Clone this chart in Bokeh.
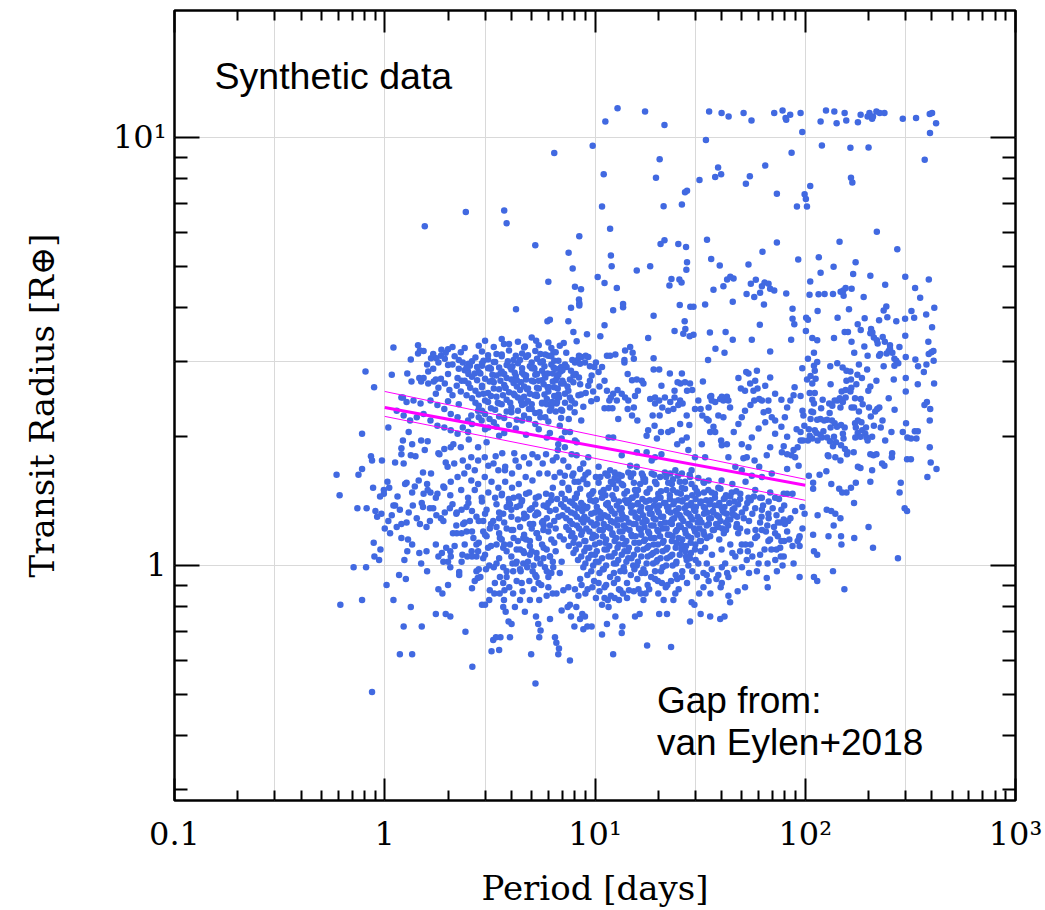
from bokeh.plotting import figure
from bokeh.models import Range1d, LogAxis, FixedTicker, Label, ColumnDataSource
from bokeh.embed import file_html
from bokeh.resources import INLINE

# ---------------- data (period [days], radius [R_earth]) ----------------
upper_sparse = [
(6.4,9.2),(2.43,6.7),(1.55,6.2),(3.7,6.75),(3.8,6.3),(5.2,5.6),(6.0,4.6),
(12.8,11.7),(11.2,10.9),(17.3,11.5),(21.4,10.7),(34.9,11.5),(40.0,11.4),(43.2,11.2),(50.9,11.4),(55.5,10.96),(71.2,11.4),
(33.7,9.86),(9.75,9.56),(20.3,8.9),(11.0,8.2),(19.5,8.05),(38.5,8.51),(39.8,8.2),(37.3,8.08),(31.4,7.95),(54.5,8.12),(52.2,7.8),
(64.5,8.6),(73.3,7.39),(26.8,7.45),(27.4,7.51),(25.9,6.97),(21.2,6.91),(10.8,6.9),(11.8,6.12),(8.42,5.88),(7.49,5.38),(7.83,4.94),
(11.9,5.30),(12.0,5.0),(15.8,4.89),(18.3,5.0),(20.5,5.64),(21.4,5.75),(24.9,5.64),(27.1,5.55),(27.4,5.11),(27.2,4.91),(34.1,5.77),
(35.7,5.2),(39.2,5.02),(53.7,5.05),(62.6,5.41),(73.3,5.68),(10.3,4.72),(11.1,4.57),(12.7,4.45),(8.03,4.48),(8.58,4.42),(23.1,4.67),
(22.6,4.51),(25.2,4.66),(25.8,4.58),(36.6,4.41),(40.8,4.49),(42.5,4.66),(44.0,4.73),(45.6,4.68),(55.1,4.55),(58.2,4.65),(62.2,4.49),
(64.0,4.58),(66.9,4.55),(68.1,4.43),(71.2,4.39),(52.6,4.31),(57.2,4.24),(61.0,4.34),(8.39,4.18),
]

giants_outer = [
(78.0,11.56),(80.6,11.1),(81.2,11.0),(84.8,11.3),(95.0,11.4),(96.8,10.3),(125.5,11.56),(137.5,11.5),(153.9,11.4),(118.3,10.9),
(141,10.8),(156.7,10.96),(178,10.86),(183.4,11.3),(198,11.2),(202,11.4),(208,11.06),(210,11.2),(218,11.5),(226,11.4),(238,11.4),
(291,11.06),(336.5,11.1),(391,11.35),(401,11.4),(419,10.8),(392,10.25),(120,9.58),(164,9.46),(200,9.48),(86.1,9.21),(370,8.87),
(165,8.05),(167.5,7.85),(105.6,7.7),(99.3,7.37),(100.7,7.18),(91.3,6.9),(101.9,6.9),(219,6.02),(145.6,5.71),(274,5.48),(92.6,5.19),
(116,5.25),(173.6,5.11),(136.4,4.99),(118.3,4.83),(169,4.80),(204,4.75),(299,4.73),(387,4.66),(105.6,4.61),(240,4.53),(333,4.45),
(81.2,4.32),(104.8,4.29),(115.7,4.30),(123.6,4.31),(135.5,4.31),(147.3,4.36),(151.7,4.39),(155.6,4.45),(166.2,4.43),(152.2,4.27),
(189.6,4.24),(352,4.22),
]

outer_mid = [
(87,3.98),(87,3.77),(88.7,3.66),(85.7,3.37),(101,3.79),(103,3.75),(100.7,3.53),(114.5,3.93),(108,3.40),(114,3.36),(110,3.14),(103,3.04),
(96.8,2.89),(102,2.72),(110,2.93),(111,2.85),(106,2.77),(112,2.73),(108,2.66),(105,2.53),(111,2.53),(108,2.44),(110,2.39),(107,2.29),
(109,2.28),(106,2.20),(114,2.19),(104,2.08),(111,2.07),(113,2.04),(105,2.01),(108,1.98),(103,1.96),(95,1.96),(92,1.89),(88,1.86),
(86,1.81),(82,1.82),(79,1.90),(77.4,1.84),(82,2.00),(77,2.11),(80,2.22),(82,2.34),(85,2.43),(77,2.44),(88,2.50),(89,2.61),(95,2.49),
(97,2.30),(98,2.24),(99,2.12),(91,2.08),(95,2.05),(97.5,1.96),(89.5,1.79),(93,1.71),(82,1.68),(128,1.81),(147,1.76),(119,2.33),
(121,2.44),(130,2.39),(134.5,2.36),(130.6,2.27),(118,2.20),(123,2.18),(127,2.19),(134,2.18),(138,2.15),(141.6,2.11),(132,2.10),
(122,2.06),(118,2.02),(114.5,1.96),(120,1.99),(127,1.99),(137,2.00),(140,1.94),(131,1.95),(135.5,1.90),(148,1.91),(152,1.98),
(154.5,1.87),(159,1.84),(151,2.03),(154,2.10),(148,2.13),(147,2.34),(151,2.41),(155.6,2.47),(149,2.55),(155.6,2.57),(164,2.55),
(165.6,2.60),(157,2.70),(150.6,2.90),(157,2.85),(164,2.84),(165,2.72),(175,2.65),(186,2.74),(132,2.65),(142.5,2.43),(138,2.43),
(146,2.46),(166,2.34),(170.6,2.34),(172.5,2.46),(183.6,2.45),(187.6,2.38),(180,2.29),(172.5,2.15),(174,2.10),(178,2.18),(185,2.16),
(186.6,2.07),(177.6,2.04),(173,1.99),(183,2.00),(193,2.03),(195.4,1.99),(198,1.96),(208,2.00),(194.5,2.10),(212,2.12),(201,2.34),
(199.5,2.56),(204,2.62),(218,2.70),(215,2.29),(225,2.34),(220,2.32),(205,2.23),(233,2.18),(228.6,2.10),(240,1.96),(257,2.05),
(266,2.31),(249.5,2.46),(263.6,2.72),(197,2.87),(177,2.79),(142,2.97),(142.5,3.79),(161.4,3.97),(191.7,3.78),(177.6,3.66),
(183.6,3.55),(166,3.33),(154,3.51),(159.6,3.51),(137,3.40),(114,2.99),(131.5,2.92),(171,3.14),(198,3.09),(191,3.25),(212,3.41),
(205.6,3.57),(204,3.49),(208.6,3.50),(224.5,3.74),(245.7,3.80),(243,4.03),(236,3.94),(271,3.72),(298.5,3.77),(320,3.93),(329.6,3.79),
(376,3.86),(411,4.00),(401,3.60),(299,3.44),(280.5,3.24),(253,3.27),(239,3.33),(233.6,3.42),(219,3.36),(221,3.30),(227.5,3.12),
(244,3.13),(249.5,3.17),(259.6,3.14),(253,3.21),(265.5,3.04),(271,3.01),(277,2.97),(265.5,2.93),(236,2.92),(224.5,3.09),(180,2.95),
(300.6,3.07),(334,3.03),(344,2.92),(366.5,2.83),(377,2.95),(385,3.33),(386.6,3.12),(398,3.15),(407,3.17),(408,3.01),(300.6,2.74),
(343,2.65),(410,2.66),(300.6,2.55),(379,2.41),(369,2.37),(393,2.32),(391,2.18),(301.6,2.15),(291,2.05),(306,1.99),(318.6,1.98),
(332,2.06),(343,2.06),(338,1.98),(391,1.89),(395,1.74),(421,1.68),(381,1.61),(305,1.77),(318,1.77),(259,1.83),(232,1.73),(238,1.71),
(208,1.67),(204,1.82),(211,1.81),(218,1.82),(258,1.79),(284.5,1.56),(281,1.48),(204,1.57),(183,1.69),(178,1.70),(174,1.56),(165,1.52),
(157,1.48),(150,1.48),(145,1.51),(133,1.55),(126,1.66),(117,1.63),(109,1.56),(104,1.62),(109,1.51),(87,1.47),(82,1.47),(79,1.47),
(170,1.84),(158,1.82),(139,1.79),(129,1.80),
]

outer_low = [
(79.4,1.38),(96.8,1.37),(99.3,1.32),(77,1.35),(89.5,1.34),(114.5,1.31),(126.5,1.35),(133,1.34),(139,1.32),(147,1.29),(136.5,1.24),
(170.6,1.40),(200,1.23),(297,1.36),(305,1.34),(85,1.29),(83,1.27),(80,1.25),(76.5,1.26),(82,1.20),(79.4,1.14),(84,1.15),(87,1.11),
(92,1.14),(94,1.17),(93.5,1.16),(94,1.11),(97,1.22),(109,1.18),(129,1.17),(148,1.17),(171,1.16),(148.6,1.12),(110,1.08),(114,1.06),
(210,1.10),(276,1.04),(79,1.05),(76.5,1.05),(88,1.01),(78,1.00),(94,0.94),(110,0.94),(114,0.92),(135.5,0.97),(153.5,0.88),
]

short_upper = [
(4.21,3.97),(5.94,3.72),(6.1,3.75),(3.69,3.29),(4.64,3.25),(5.25,3.35),(6.34,3.15),(1.10,3.23),(1.44,3.27),(1.47,3.18),(1.44,3.13),
(1.53,3.17),(1.33,3.03),(1.66,3.05),(1.76,3.05),(1.86,3.19),(2.0,3.20),(1.85,3.09),(1.93,3.04),(2.0,2.94),(1.59,2.95),(1.61,2.84),
(0.81,2.84),(1.08,2.79),(1.28,2.81),(1.34,2.69),(1.46,2.74),(1.53,2.74),(1.49,2.69),(1.71,2.69),(1.75,2.72),(1.61,2.66),(1.80,2.60),
(1.93,2.66),(2.03,2.57),(0.89,2.61),(2.22,2.74),(2.32,2.70),(2.49,2.84),(2.68,2.81),(2.9,2.97),(2.54,2.93),(1.22,2.47),(0.78,2.03),
(1.04,2.10),(1.30,2.05),(1.22,1.96),(1.35,1.92),(1.49,1.96),(1.60,1.95),(0.86,1.80),(0.87,1.76),(0.97,1.76),(1.20,1.82),(1.33,1.81),
(1.23,1.73),(0.59,1.63),(0.75,1.63),(0.78,1.68),(1.03,1.57),(0.99,1.50),(0.99,1.47),(1.27,1.56),(1.39,1.53),(1.52,1.65),(1.66,1.64),
(1.82,1.82),(1.92,1.87),(2.06,1.89),(2.12,1.92),(2.30,1.89),(2.51,1.97),(2.78,1.89),(3.05,1.94),(3.37,1.80),(3.62,1.83),(3.73,1.67),
(4.13,1.83),
(1.20,2.47),(1.27,2.41),(1.37,2.43),(1.48,2.39),(1.65,2.43),(1.78,2.37),(1.92,2.32),(2.06,2.26),(2.22,2.22),(1.14,2.30),(1.23,2.24),
(1.32,2.18),(1.42,2.22),(1.53,2.26),(1.65,2.18),(1.78,2.12),(1.92,2.10),(2.06,2.07),(2.22,2.03),(2.35,2.10),(2.49,2.18),(2.58,2.24),
(2.78,2.30),(2.89,2.18),(3.11,2.10),(2.49,2.05),
(2.58,1.79),(2.78,1.76),(2.99,1.79),(3.11,1.71),(3.29,1.73),(3.47,1.67),(3.74,1.70),(4.03,1.64),(4.19,1.76),(4.34,1.70),(4.59,1.79),
(4.86,1.73),(5.04,1.82),(5.33,1.79),(5.64,1.73),(5.85,1.82),(6.30,1.76),(6.66,1.86),(5.95,1.64),(5.43,1.64),(5.04,1.58),(4.68,1.61),
(4.34,1.55),(4.03,1.52),(3.74,1.57),(3.47,1.52),(3.22,1.57),(2.99,1.61),(2.78,1.55),(2.58,1.58),(2.39,1.64),(2.22,1.61),(2.06,1.57),
(1.92,1.52),(1.78,1.47),(1.65,1.48),(1.59,1.55),(1.53,1.47),(1.99,1.70),(2.14,1.73),(2.35,1.76),(2.49,1.70),(2.68,1.67),(2.31,1.50),
(2.49,1.44),(2.68,1.50),(2.89,1.44),(3.11,1.48),(3.35,1.44),(3.61,1.47),(3.89,1.43),(4.34,1.45),(4.86,1.48),(5.23,1.44),(5.85,1.47),
(6.30,1.52),(6.42,1.61),(6.18,1.42),
]

short_low = [
(0.741,1.36),(0.82,1.36),(0.903,1.34),(0.964,1.32),(0.886,1.13),(0.954,1.09),(0.893,1.05),(0.94,1.03),(0.711,0.99),(0.815,0.99),
(0.615,0.81),(0.78,0.83),(1.02,0.90),(1.10,0.83),(1.17,0.95),(1.26,0.93),(1.33,0.80),(1.23,0.72),(1.50,0.72),(1.18,0.62),(1.35,0.62),
(0.87,0.506),(1.75,0.77),(1.95,0.77),(2.05,0.76),(1.80,0.88),(1.88,0.86),(2.00,0.90),(1.59,0.97),(1.49,1.01),(1.24,1.03),(1.46,1.07),
(1.58,1.08),(1.35,1.12),(1.28,1.08),(1.75,1.12),(1.87,1.07),(1.96,1.10),(2.05,1.08),(2.15,1.11),(2.06,1.05),(2.00,1.02),(1.90,1.02),
(1.80,1.05),(2.34,1.06),(2.26,0.965),(2.26,0.95),(2.05,0.99),(2.42,0.70),(2.61,0.58),(2.60,0.885),(2.68,0.92),(2.77,0.935),(2.73,0.97),
(2.85,0.94),(2.90,0.81),(3.00,0.81),(3.03,0.98),(2.73,1.05),(2.78,1.08),(3.10,1.10),(3.05,1.17),(3.16,0.875),(3.32,0.86),(3.52,0.86),
(3.69,0.83),(3.71,0.875),(3.14,0.83),(3.28,0.67),(3.22,0.63),(3.50,0.635),(3.55,0.68),(3.38,0.68),(3.94,0.68),(3.76,0.78),(3.88,0.74),
(4.01,0.73),(3.91,0.89),(3.80,0.94),(4.08,0.97),(4.05,1.01),(4.24,1.02),(4.56,1.01),(4.43,0.97),(4.76,0.99),(5.05,0.97),(4.87,0.92),
(4.52,0.87),(4.64,0.78),(4.90,0.83),(5.12,0.88),(5.39,0.91),(5.27,0.94),(5.55,0.90),(5.43,0.83),(5.89,0.85),(6.0,0.89),(5.24,0.76),
(5.37,0.73),(5.51,0.705),(5.43,0.68),(4.97,0.62),(5.21,0.53),(6.11,0.75),(6.29,0.86),(6.20,0.96),(6.33,0.99),(5.78,0.99),(5.68,1.04),
(6.11,1.05),(5.89,1.09),(5.27,1.07),(4.90,1.06),(4.56,1.08),(4.24,1.09),(3.94,1.12),(3.66,1.10),(3.40,1.12),(3.53,1.16),(4.08,1.21),
(4.56,1.16),(4.90,1.14),(5.27,1.19),(5.68,1.21),(6.11,1.24),(5.68,1.27),(5.37,1.32),(4.90,1.35),(5.89,1.37),(3.40,1.23),(3.16,1.22),
(2.94,1.20),(2.64,1.16),(2.45,1.20),(2.36,1.25),(2.54,1.27),(2.73,1.30),(3.05,1.35),(3.28,1.27),(3.66,1.32),(3.94,1.39),(4.24,1.37),
(4.48,1.41),(4.73,1.30),(5.08,1.25),(2.94,1.27),(1.06,1.19),(1.14,1.23),(1.20,1.25),(1.27,1.26),(1.42,1.29),(1.47,1.25),(1.58,1.23),
(1.64,1.27),(1.76,1.31),(1.90,1.27),(1.93,1.33),(2.04,1.36),(2.19,1.32),(2.32,1.35),(2.45,1.37),(1.64,1.36),(1.52,1.37),(1.36,1.38),
(1.18,1.35),(1.12,1.38),(1.08,1.31),(1.20,1.16),(1.29,1.15),(1.04,1.27),(2.19,1.24),(2.11,1.19),(2.32,1.19),(2.73,1.12),(2.59,1.08),
(2.47,1.05),(2.32,1.02),(2.94,1.04),(3.14,1.00),(3.40,1.01),(3.66,0.99),(3.53,0.94),(3.34,0.91),(3.66,0.91),(4.24,0.92),(4.48,0.91),
(4.08,0.86),(4.40,0.83),(4.16,0.80),(3.66,0.80),
]

mid_upper = [
(7.69,4.00),(8.42,4.10),(8.42,4.05),(12.2,3.95),(13.6,4.01),(13.6,4.08),(19.0,3.83),(25.3,4.06),(28.4,4.02),(29.4,4.02),(33.4,4.07),
(45.2,4.13),(63.6,4.07),(7.47,3.72),(11.1,3.64),(7.89,3.51),(8.18,3.34),(9.16,3.47),(10.6,3.43),(7.10,3.31),(17.9,3.40),(23.9,3.53),
(26.7,3.72),(26.9,3.57),(26.3,3.48),(28.2,3.43),(29.4,3.46),(35.2,3.50),(41.8,3.51),(60.8,3.65),(45.2,3.37),(37.4,3.21),(41.3,3.14),
(34.5,3.02),(55.7,3.37),(68.1,3.16),(8.39,3.09),(8.63,3.07),(9.03,3.09),(9.29,3.07),(8.03,2.98),(8.27,3.02),(8.49,2.96),(8.96,2.98),
(9.46,2.92),(6.86,2.84),(7.33,2.91),(7.69,2.85),(8.10,2.80),(8.39,2.75),(7.60,2.72),(7.89,2.68),(7.47,2.56),(6.89,2.66),(6.59,2.75),
(7.19,2.52),(6.74,2.47),(6.56,2.39),(7.60,2.47),(7.74,2.43),(6.98,2.30),(7.60,2.34),(8.03,2.39),(8.34,2.50),(8.58,2.51),(9.03,2.53),
(9.29,2.63),(9.46,2.70),(9.64,2.78),(9.93,2.91),(10.1,2.98),(10.4,2.83),(10.8,2.91),(11.1,2.70),(11.4,3.09),(11.8,3.09),(12.5,3.11),
(13.9,3.18),(14.7,3.24),(15.1,3.14),(15.3,3.04),(13.8,2.98),(13.8,3.02),(14.3,2.80),(15.0,2.71),(15.8,2.72),(16.7,2.70),(17.0,2.66),
(16.0,2.56),(15.5,2.49),(14.4,2.43),(13.9,2.47),(13.4,2.52),(12.8,2.57),(12.2,2.52),(11.9,2.47),(11.4,2.56),(11.7,2.43),(11.1,2.33),
(11.6,2.33),(12.1,2.33),(12.7,2.43),(12.9,2.20),(14.3,2.32),(15.3,2.34),(15.0,2.24),(15.9,2.18),(19.0,3.05),(19.0,2.87),(20.2,2.87),
(22.7,2.81),(25.9,2.81),(26.8,2.68),(28.3,2.66),(29.0,2.57),(27.4,2.56),(25.5,2.66),(24.7,2.68),(23.9,2.56),(20.7,2.63),(19.3,2.47),
(18.3,2.45),(19.3,2.39),(20.2,2.43),(21.5,2.47),(22.8,2.41),(23.9,2.47),(25.4,2.43),(26.1,2.39),(24.9,2.37),(23.6,2.32),(22.3,2.30),
(20.9,2.34),(20.3,2.24),(18.8,2.24),(17.9,2.07),(19.2,2.12),(19.7,1.98),(17.6,2.01),(20.6,2.05),(22.3,2.05),(23.2,2.07),(25.4,2.14),
(27.3,2.24),(28.1,2.13),(27.3,1.99),(25.9,1.96),(29.9,2.32),(31.0,2.43),(31.8,2.32),(32.4,2.24),(34.0,2.20),(34.7,2.34),(35.7,2.49),
(35.9,2.43),(37.3,2.41),(39.4,2.45),(40.8,2.43),(42.4,2.48),(43.1,2.43),(43.9,2.34),(40.8,2.22),(38.6,2.24),(36.6,2.11),(34.7,2.18),
(35.3,2.05),(37.3,2.05),(39.8,1.96),(40.1,1.91),(42.4,1.92),(45.7,2.05),(48.1,2.14),(49.9,2.22),(51.7,2.30),(54.9,2.37),(57.2,2.43),
(60.4,2.45),(63.4,2.28),(66.8,2.30),(69.3,2.22),(71.9,2.18),(64.5,2.16),(60.0,2.09),(55.7,1.99),(53.7,1.89),(49.9,1.92),(50.8,1.78),
(52.7,1.79),(57.4,1.76),(60.4,1.70),(65.6,1.81),(68.1,1.89),(71.9,2.03),(48.1,2.74),(49.4,2.59),(52.4,2.83),(53.7,2.81),(58.9,2.85),
(57.8,2.70),(54.7,2.66),(51.7,2.56),(56.7,2.56),(59.3,2.59),(64.5,2.63),(68.1,2.75),(71.9,2.52),(62.2,2.43),(66.8,2.43),(32.6,2.69),
(35.3,2.48),(40.1,2.48),
]

mid_lower = [
(6.69,1.92),(7.19,1.89),(6.56,1.79),(7.07,1.76),(7.74,1.82),(8.18,1.81),(7.47,1.70),(6.81,1.65),(7.19,1.62),(7.89,1.64),(8.49,1.68),
(8.80,1.73),(9.29,1.65),(9.12,1.55),(8.34,1.57),(7.47,1.52),(6.94,1.47),(8.03,1.44),(9.64,1.47),(10.4,1.70),(10.6,1.61),(11.2,1.64),
(11.8,1.67),(12.4,1.65),(12.2,1.55),(11.6,1.52),(11.2,1.46),(12.9,1.58),(13.6,1.54),(13.4,1.62),(14.4,1.65),(15.2,1.64),(15.8,1.70),
(16.7,1.64),(17.3,1.59),(16.4,1.55),(15.5,1.50),(15.0,1.44),(17.6,1.48),(18.6,1.64),(19.3,1.57),(20.4,1.61),(21.5,1.65),(22.8,1.64),
(24.1,1.67),(23.2,1.55),(21.9,1.50),(20.0,1.44),(24.6,1.48),(25.9,1.52),(26.8,1.57),(28.3,1.61),(25.9,1.64),(28.8,1.67),(29.9,1.52),
(31.0,1.47),(32.8,1.57),(34.7,1.58),(35.9,1.48),(38.6,1.52),(41.5,1.44),(44.7,1.48),(49.1,1.47),(53.7,1.44),(57.8,1.50),(62.2,1.44),
(68.1,1.48),(71.9,1.44),(17.6,1.84),(18.6,1.76),(11.6,1.99),(12.2,1.99),(7.60,2.05),(6.94,1.98),(8.03,1.96),(9.29,1.79),(8.18,1.94),
(14.7,1.71),(13.4,1.81),(15.8,1.84),(19.3,1.79),(20.7,1.82),(24.6,1.92),(27.8,1.86),(29.9,1.79),(32.2,1.92),(33.4,1.79),(43.1,1.79),
(46.5,1.70),(49.9,1.67),(55.7,1.62),(62.2,1.61),(69.3,1.64),
(7.5,1.50),(8.5,1.51),(9.8,1.49),(11.0,1.50),(12.6,1.51),(14.2,1.49),(16.0,1.50),(18.2,1.51),(20.6,1.49),(23.5,1.50),(26.8,1.51),
(30.5,1.49),(34.6,1.50),(39.5,1.51),
(7.0,1.56),(8.0,1.57),(9.2,1.55),(10.4,1.56),(11.9,1.57),(13.4,1.55),(15.3,1.56),(17.3,1.57),(19.6,1.55),(22.3,1.56),(25.3,1.57),
(28.8,1.55),(33.0,1.56),
(7.8,1.62),(9.0,1.63),(10.1,1.61),(11.5,1.62),(13.0,1.63),(14.8,1.61),(16.9,1.62),(19.1,1.63),(21.8,1.61),(24.8,1.62),(28.2,1.63),
]

mid_low = [
(6.94,1.02),(7.60,0.60),(6.55,0.66),(6.69,0.62),(6.74,0.64),(6.45,0.68),(6.94,0.785),(7.41,0.80),(7.60,0.81),(8.15,0.80),(8.34,0.85),
(7.69,0.76),(7.98,0.72),(8.49,0.75),(8.80,0.71),(9.19,0.72),(9.64,0.72),(8.70,0.77),(8.96,0.76),(10.8,0.69),(11.4,0.73),(12.2,0.62),
(12.5,0.76),(13.5,0.72),(13.4,0.695),(15.5,0.76),(16.3,0.77),(17.7,0.65),(23.0,0.645),(20.2,0.77),(22.0,0.77),(21.2,0.83),(23.6,0.83),
(24.1,0.86),(28.3,0.74),(28.8,0.82),(29.7,0.81),(31.3,0.86),(31.8,0.77),(35.3,0.76),(39.4,0.75),(41.3,0.76),(35.4,0.86),(39.6,0.89),
(40.1,0.91),(43.9,0.82),(43.1,0.85),(47.7,0.87),(51.7,0.89),(54.0,0.96),(58.9,0.97),(65.6,0.935),(66.3,0.89),(73.3,0.97),(73,1.09),
(66.2,1.01),(10.1,0.84),(11.1,0.84),(11.5,0.83),(11.9,0.85),(12.4,0.84),(13.0,0.83),(13.6,0.86),(14.2,0.84),(14.5,0.875),(15.3,0.87),
(16.1,0.88),(17.0,0.83),(17.4,0.86),(18.1,0.88),(10.8,0.81),(11.6,0.80),(10.4,0.91),(11.1,0.89),(12.3,0.91),(13.2,0.875),(9.71,0.89),
(9.22,0.88),(8.63,0.90),(8.03,0.88),(7.47,0.89),(7.07,0.875),(6.56,0.86),(19.3,0.93),(20.8,0.91),(21.7,0.89),(23.0,0.92),(24.2,0.95),
(25.9,0.94),(27.8,1.00),(27.3,1.03),(31.0,1.01),(34.0,1.01),(35.9,0.98),(32.8,0.96),(34.7,0.92),(32.8,0.89),(53.3,1.08),(57.8,1.16),
(62.2,1.21),(66.8,1.14),(71.9,1.19),(74.1,1.26),(66.8,1.32),(62.2,1.35),(57.8,1.36),(47.3,1.25),(49.9,1.12),(52.7,1.03),(46.5,1.05),
(41.6,1.01),(43.1,0.94),(38.6,0.95),(40.1,0.99),
]

subneptune_core = [
(2.9,3.16),(3.4,3.12),(3.9,3.18),(4.5,3.13),(5.2,3.17),(5.8,3.11),(6.5,3.15),
(2.7,3.06),(3.1,3.03),(3.6,3.08),(4.1,3.02),(4.7,3.07),(5.3,3.04),(6.0,3.09),(6.7,3.01),
(2.5,2.96),(2.9,2.93),(3.3,2.99),(3.8,2.94),(4.3,2.97),(4.9,2.92),(5.5,2.98),(6.2,2.95),(6.9,2.91),
(2.4,2.86),(2.8,2.83),(3.2,2.88),(3.6,2.84),(4.0,2.87),(4.5,2.82),(5.0,2.89),(5.6,2.85),(6.3,2.81),(7.0,2.86),
(2.6,2.76),(3.0,2.73),(3.4,2.78),(3.8,2.74),(4.2,2.77),(4.7,2.72),(5.2,2.79),(5.8,2.75),(6.5,2.71),
(2.5,2.66),(2.9,2.63),(3.3,2.68),(3.7,2.64),(4.1,2.67),(4.6,2.62),(5.1,2.69),(5.7,2.65),(6.4,2.61),(7.1,2.66),
(2.7,2.56),(3.1,2.53),(3.5,2.58),(3.9,2.54),(4.4,2.57),(4.9,2.52),(5.4,2.59),(6.0,2.55),(6.7,2.51),
(2.6,2.46),(3.0,2.43),(3.4,2.48),(3.8,2.44),(4.3,2.47),(4.8,2.42),(5.3,2.49),(5.9,2.45),(6.6,2.41),
(2.8,2.36),(3.2,2.33),(3.6,2.38),(4.0,2.34),(4.5,2.37),(5.0,2.32),(5.6,2.39),(6.2,2.35),(6.9,2.31),
(3.0,2.26),(3.5,2.23),(4.0,2.28),(4.6,2.24),(5.2,2.27),(5.8,2.22),(6.5,2.29),
(3.3,2.16),(3.9,2.13),(4.5,2.18),(5.2,2.14),(6.0,2.17),
(3.15,2.90),(3.55,2.81),(4.05,2.92),(4.6,2.79),(5.15,2.88),(5.75,2.80),(6.35,2.90),(3.25,2.70),(3.75,2.60),(4.25,2.71),(4.8,2.59),
(5.4,2.70),(6.05,2.61),(2.95,2.52),(3.45,2.40),(4.15,2.50),(4.65,2.39),(5.25,2.51),(5.9,2.38),(6.55,2.48),
(3.1,3.10),(3.6,3.11),(4.2,3.09),(4.8,3.10),(5.5,3.12),(6.2,3.08),
(2.6,3.00),(2.95,3.01),(3.35,2.99),(3.85,3.00),(4.4,3.02),(5.0,2.98),(5.65,3.00),(6.4,3.01),
(2.45,2.90),(2.75,2.91),(3.1,2.89),(3.5,2.90),(3.95,2.91),(4.5,2.89),(5.1,2.90),(5.75,2.92),(6.5,2.88),
(2.5,2.80),(2.85,2.81),(3.25,2.79),(3.7,2.80),(4.15,2.82),(4.7,2.78),(5.3,2.80),(5.95,2.81),(6.7,2.79),
(2.4,2.70),(2.75,2.71),(3.15,2.69),(3.55,2.70),(4.0,2.72),(4.45,2.68),(5.0,2.70),(5.6,2.71),(6.3,2.69),(7.0,2.70),
(2.55,2.60),(2.9,2.61),(3.3,2.59),(3.75,2.60),(4.25,2.62),(4.75,2.58),(5.3,2.60),(5.95,2.61),(6.65,2.59),
(2.45,2.50),(2.8,2.51),(3.2,2.49),(3.65,2.50),(4.1,2.52),(4.6,2.48),(5.15,2.50),(5.75,2.51),(6.4,2.49),
(2.7,2.40),(3.1,2.41),(3.5,2.39),(3.95,2.40),(4.45,2.42),(5.0,2.38),(5.6,2.40),(6.25,2.41),
(2.9,2.30),(3.35,2.31),(3.8,2.29),(4.3,2.30),(4.85,2.32),(5.45,2.28),(6.1,2.30),
(3.15,2.20),(3.7,2.21),(4.25,2.19),(4.85,2.20),(5.5,2.22),
]

subneptune_edges = [
(1.7,3.12),(1.95,3.14),(2.15,3.08),(2.3,3.15),(1.8,2.98),(2.1,2.95),(2.25,2.88),(1.7,2.88),(2.0,2.80),(2.2,2.63),(1.85,2.73),
(2.1,2.50),(2.3,2.55),(1.75,2.52),(2.0,2.42),(2.25,2.38),(2.35,2.98),(2.25,3.02),(2.4,3.22),(2.1,3.24),
(7.3,3.14),(7.8,3.02),(7.2,2.95),(7.9,2.78),(7.4,2.62),(8.5,2.65),(7.2,2.40),(8.0,2.28),(8.8,2.35),(9.6,2.42),(9.8,2.55),
(10.5,2.62),(10.2,2.45),(7.5,2.20),(8.6,2.18),
(2.8,3.26),(3.3,3.24),(3.9,3.29),(4.6,3.23),(5.4,3.27),(6.2,3.22),(3.0,3.35),(3.6,3.38),(4.3,3.33),(5.0,3.41),(6.0,3.32),(6.8,3.26),
(2.6,2.14),(3.0,2.08),(3.4,2.11),(3.7,2.04),(4.2,2.09),(4.7,2.02),(5.4,2.08),(6.1,2.04),(6.8,2.12),(2.8,2.22),(6.9,2.21),(7.2,2.05),
(3.5,2.01),(5.9,1.99),
]

superearth_core = [
(7.2,1.43),(8.1,1.44),(9.5,1.42),(10.8,1.44),(12.3,1.43),(13.9,1.42),(15.1,1.44),(16.8,1.43),(18.2,1.42),(20.5,1.44),(22.7,1.43),
(24.9,1.42),(27.3,1.44),(30.1,1.43),(33.8,1.42),(37.2,1.44),(41.0,1.43),
(6.9,1.39),(7.8,1.40),(8.8,1.38),(9.9,1.41),(11.3,1.39),(12.7,1.38),(14.2,1.40),(15.9,1.39),(17.4,1.41),(19.1,1.38),(21.3,1.40),
(23.6,1.39),(26.0,1.41),(28.8,1.38),(31.7,1.40),(35.0,1.39),(39.1,1.38),(43.5,1.40),(48.0,1.39),
(7.4,1.35),(8.3,1.36),(9.2,1.37),(10.4,1.34),(11.8,1.36),(13.1,1.35),(14.8,1.37),(16.3,1.34),(17.9,1.36),(19.8,1.35),(22.0,1.37),
(24.2,1.34),(26.7,1.36),(29.6,1.35),(32.9,1.37),(36.4,1.34),(40.2,1.36),(45.1,1.35),(52.0,1.36),
(7.0,1.31),(8.0,1.32),(8.9,1.30),(10.0,1.33),(11.1,1.31),(12.4,1.32),(13.6,1.30),(15.3,1.33),(16.9,1.31),(18.6,1.32),(20.6,1.30),
(22.9,1.33),(25.3,1.31),(27.9,1.32),(30.8,1.30),(34.2,1.33),(38.0,1.31),(42.3,1.32),(47.5,1.30),
(7.6,1.27),(8.6,1.28),(9.6,1.26),(10.7,1.29),(11.9,1.27),(13.3,1.28),(14.5,1.26),(16.0,1.29),(17.6,1.27),(19.4,1.28),(21.5,1.26),
(23.8,1.29),(26.3,1.27),(29.0,1.28),(32.1,1.26),(35.6,1.29),(39.5,1.27),(44.0,1.28),
(7.3,1.23),(8.2,1.24),(9.1,1.22),(10.2,1.25),(11.5,1.23),(12.8,1.24),(14.0,1.22),(15.6,1.25),(17.2,1.23),(19.0,1.24),(21.0,1.22),
(23.2,1.25),(25.6,1.23),(28.3,1.24),(31.4,1.22),(34.8,1.25),(38.6,1.23),(43.0,1.24),(49.0,1.22),
(7.8,1.19),(8.7,1.20),(9.8,1.18),(10.9,1.21),(12.1,1.19),(13.5,1.20),(14.9,1.18),(16.5,1.21),(18.1,1.19),(20.0,1.20),(22.2,1.18),
(24.5,1.21),(27.0,1.19),(29.9,1.20),(33.1,1.18),(36.8,1.21),(41.0,1.19),
(7.1,1.15),(8.0,1.16),(9.0,1.14),(10.1,1.17),(11.3,1.15),(12.6,1.16),(14.1,1.14),(15.6,1.17),(17.3,1.15),(19.2,1.16),(21.2,1.14),
(23.4,1.17),(26.0,1.15),(28.7,1.16),(31.9,1.14),(35.3,1.17),(39.0,1.15),
(7.5,1.11),(8.4,1.12),(9.4,1.10),(10.5,1.13),(11.7,1.11),(13.0,1.12),(14.5,1.10),(16.2,1.13),(18.0,1.11),(19.9,1.12),(22.1,1.10),
(24.4,1.13),(27.1,1.11),(30.0,1.12),(33.4,1.10),
(7.9,1.07),(8.9,1.08),(10.0,1.06),(11.1,1.09),(12.4,1.07),(13.8,1.08),(15.3,1.06),(17.0,1.09),(18.9,1.07),(21.0,1.08),(23.3,1.06),
(25.8,1.09),(28.6,1.07),(31.8,1.08),
(8.3,1.03),(9.3,1.04),(10.4,1.02),(11.6,1.05),(12.9,1.03),(14.4,1.04),(16.0,1.02),(17.8,1.05),(19.8,1.03),(22.0,1.04),(24.4,1.02),
(27.1,1.05),(30.1,1.03),
(8.8,0.99),(9.8,1.00),(11.0,0.98),(12.3,1.01),(13.7,0.99),(15.2,1.00),(17.0,0.98),(18.9,1.01),(21.0,0.99),(23.4,1.00),
(9.2,0.95),(10.5,0.96),(11.8,0.94),(13.2,0.97),(14.8,0.95),(16.6,0.96),(18.5,0.94),(20.6,0.97),
]

superearth_fill = [
(7.6,1.41),(8.6,1.40),(10.1,1.42),(11.5,1.40),(13.0,1.41),(14.5,1.42),(16.0,1.40),(17.5,1.41),(19.3,1.42),(21.6,1.40),(23.8,1.41),
(26.1,1.42),(28.7,1.40),(31.9,1.41),(35.5,1.42),(39.0,1.40),
(7.1,1.37),(8.0,1.38),(9.1,1.36),(10.2,1.37),(11.5,1.38),(13.4,1.36),(15.0,1.38),(16.6,1.37),(18.3,1.36),(20.2,1.38),(22.4,1.37),
(25.0,1.36),(27.4,1.38),(30.2,1.37),(33.3,1.36),(37.0,1.38),(41.3,1.37),(46.0,1.36),
(7.7,1.33),(8.7,1.34),(9.6,1.32),(10.6,1.33),(12.0,1.34),(13.4,1.32),(14.9,1.33),(16.5,1.34),(18.2,1.32),(20.1,1.33),(22.3,1.34),
(24.6,1.32),(27.2,1.33),(30.0,1.34),(33.0,1.32),(36.5,1.33),(40.5,1.34),(45.0,1.32),
(7.3,1.29),(8.2,1.30),(9.2,1.28),(10.4,1.29),(11.5,1.30),(12.8,1.28),(14.1,1.29),(15.6,1.30),(17.3,1.28),(19.0,1.29),(21.1,1.30),
(23.3,1.28),(25.8,1.29),(28.5,1.30),(31.5,1.28),(34.9,1.29),(38.8,1.30),(43.0,1.28),
(7.8,1.25),(8.8,1.26),(9.9,1.24),(11.0,1.25),(12.3,1.26),(13.7,1.24),(15.2,1.25),(16.8,1.26),(18.5,1.24),(20.5,1.25),(22.7,1.26),
(25.1,1.24),(27.8,1.25),(30.8,1.26),(34.0,1.24),(37.7,1.25),(42.0,1.26),
(7.5,1.21),(8.4,1.22),(9.4,1.20),(10.5,1.21),(11.8,1.22),(13.1,1.20),(14.6,1.21),(16.2,1.22),(17.9,1.20),(19.8,1.21),(21.9,1.22),
(24.2,1.20),(26.8,1.21),(29.6,1.22),(32.8,1.20),(36.3,1.21),(40.3,1.22),
(7.7,1.17),(8.6,1.18),(9.7,1.16),(10.9,1.17),(12.1,1.18),(13.5,1.16),(15.0,1.17),(16.6,1.18),(18.4,1.16),(20.4,1.17),(22.6,1.18),
(25.0,1.16),(27.7,1.17),(30.7,1.18),(34.0,1.16),
(7.9,1.13),(8.9,1.14),(10.0,1.12),(11.2,1.13),(12.4,1.14),(13.8,1.12),(15.4,1.13),(17.1,1.14),(19.0,1.12),(21.0,1.13),(23.2,1.14),
(25.7,1.12),(28.5,1.13),(31.5,1.14),
(8.1,1.09),(9.1,1.10),(10.2,1.08),(11.4,1.09),(12.8,1.10),(14.3,1.08),(15.9,1.09),(17.7,1.10),(19.6,1.08),(21.8,1.09),(24.2,1.10),
(26.9,1.08),(29.9,1.09),
(8.6,1.05),(9.6,1.06),(10.8,1.04),(12.0,1.05),(13.4,1.06),(14.9,1.04),(16.6,1.05),(18.5,1.06),(20.5,1.04),(22.8,1.05),(25.3,1.06),
(28.3,1.04),
(9.0,1.01),(10.1,1.02),(11.3,1.00),(12.6,1.01),(14.1,1.02),(15.8,1.00),(17.6,1.01),(19.6,1.02),(21.8,1.00),(24.3,1.01),
(9.6,0.97),(10.9,0.98),(12.3,0.96),(13.8,0.97),(15.4,0.98),(17.3,0.96),(19.3,0.97),
]

superearth_edges = [
(3.6,1.46),(4.1,1.44),(4.7,1.47),(5.4,1.45),(6.2,1.46),(6.6,1.43),
(3.8,1.37),(4.4,1.38),(5.0,1.36),(5.7,1.38),(6.5,1.35),
(3.5,1.29),(4.0,1.30),(4.6,1.29),(5.2,1.31),(5.9,1.29),(6.7,1.30),
(3.8,1.22),(4.4,1.23),(5.0,1.22),(5.7,1.24),(6.5,1.22),
(3.6,1.15),(4.1,1.16),(4.7,1.15),(5.4,1.16),(6.2,1.15),(6.8,1.17),
(3.8,1.08),(4.4,1.09),(5.0,1.08),(5.7,1.10),(6.5,1.08),
(4.2,1.01),(4.8,1.02),(5.5,1.01),(6.3,1.02),(6.8,0.96),(6.0,0.94),(5.2,0.95),
(44,1.45),(49,1.43),(55,1.42),(61,1.44),(67,1.41),(75,1.43),
(41,1.33),(46,1.31),(51,1.29),(56,1.32),(61,1.26),(67,1.29),(73,1.31),(79,1.28),
(42,1.21),(47,1.23),(53,1.20),(59,1.17),(65,1.20),(71,1.23),(77,1.14),
(36,1.06),(40,1.09),(44,1.12),(49,1.08),(55,1.12),(61,1.06),(69,1.09),(76,1.10),
(8.5,0.93),(9.9,0.92),(11.3,0.90),(12.8,0.93),(14.2,0.91),(15.9,0.93),(17.8,0.90),(19.9,0.92),(22.1,0.90),(24.6,0.93),(27.4,0.91),
(30.5,0.94),(34.0,0.95),(37.8,0.93),(42.5,0.96),(46.0,0.98),(50.0,0.99),(26.0,0.97),(29.0,0.97),(9.0,0.86),(10.5,0.87),(13.0,0.88),
(16.5,0.86),(20.0,0.86),(25.0,0.88),
(8.2,1.47),(9.4,1.46),(10.7,1.48),(12.1,1.46),(13.8,1.47),(15.7,1.46),(17.7,1.48),(20.0,1.47),(22.7,1.46),(25.6,1.47),(29.0,1.46),
(33.0,1.48),(37.2,1.47),(42.0,1.46),(47.0,1.49),(8.8,1.59),(12.4,1.60),(17.0,1.59),(23.5,1.59),(31.0,1.60),(40.0,1.58),(45.0,1.55),
(52.0,1.57),
]

short_fill = [
(2.5,1.40),(2.9,1.41),(3.4,1.39),(3.9,1.40),(4.5,1.42),(5.2,1.39),(6.0,1.40),
(2.2,1.33),(2.6,1.34),(3.0,1.32),(3.5,1.33),(4.0,1.35),(4.6,1.32),(5.3,1.33),(6.1,1.34),
(2.4,1.26),(2.8,1.27),(3.2,1.25),(3.7,1.26),(4.3,1.28),(4.9,1.25),(5.6,1.26),(6.4,1.27),
(2.2,1.19),(2.6,1.20),(3.0,1.18),(3.5,1.19),(4.0,1.21),(4.6,1.18),(5.3,1.19),(6.0,1.20),
(2.4,1.12),(2.8,1.13),(3.2,1.11),(3.7,1.12),(4.3,1.14),(4.9,1.11),(5.6,1.12),(6.4,1.13),
(2.6,1.05),(3.0,1.06),(3.5,1.04),(4.0,1.05),(4.6,1.07),(5.3,1.04),(6.1,1.05),
(2.8,0.98),(3.3,0.99),(3.8,0.97),(4.4,0.98),(5.1,1.00),(5.9,0.97),
]

edge_fill = [
(1.05,1.52),(1.15,1.45),(1.25,1.55),(1.35,1.48),(1.45,1.58),(1.6,1.50),(1.75,1.44),(1.9,1.53),(2.05,1.46),(1.1,1.38),(1.3,1.33),
(1.5,1.40),(1.7,1.36),(1.85,1.29),(2.1,1.39),(1.2,1.88),(1.4,1.80),(1.55,1.86),(1.8,1.83),(1.95,1.74),(1.12,1.74),(0.95,1.45),
(0.88,1.52),(0.92,1.30),(1.0,1.22),(0.61,1.46),
(46,1.41),(50,1.33),(54,1.27),(58,1.21),(62,1.30),(66,1.24),(70,1.36),(74,1.17),(48,1.19),(52,1.12),(56,1.05),(60,1.01),(64,1.09),
(68,1.15),(72,1.03),(45,1.07),(53,1.40),(57,1.45),(63,1.38),
]

# van Eylen+2018 radius-gap line and its bounds
gap_period = [1.0, 100.0]
gap_radius = [2.34, 1.54]
gap_radius_upper = [2.55, 1.59]
gap_radius_lower = [2.23, 1.42]

x_major_ticks = [0.1, 1, 10, 100, 1000]
x_tick_labels = ["0.1", "1", "10\u00b9", "10\u00b2", "10\u00b3"]
y_major_ticks = [1, 10]
y_tick_labels = ["1", "10\u00b9"]
x_grid_ticks = [0.3, 1, 3, 10, 30, 100, 300]
y_grid_ticks = [1, 3, 10]

# ---------------- assemble ----------------
points = (upper_sparse + giants_outer + outer_mid + outer_low + short_upper + short_low +
          mid_upper + mid_lower + mid_low + subneptune_core + subneptune_edges + superearth_core +
          superearth_fill + superearth_edges + short_fill + edge_fill)
source = ColumnDataSource(data=dict(period=[p for p, r in points], radius=[r for p, r in points]))

x_minor = [m * d for d in (0.1, 1, 10, 100) for m in range(2, 10)]
y_minor = [m * d for d in (0.1, 1) for m in range(2, 10)]

p = figure(width=1045, height=910, x_axis_type="log", y_axis_type="log",
           x_range=Range1d(0.1, 1000), y_range=Range1d(0.2824, 19.8),
           output_backend="svg", toolbar_location=None,
           min_border_left=174, min_border_right=30, min_border_top=10, min_border_bottom=110)
p.background_fill_color = "white"
p.border_fill_color = "white"
p.outline_line_color = "black"
p.outline_line_width = 2.5

def style_axis(ax, major, minor, tlen, mlen):
    ax.ticker = FixedTicker(ticks=major, minor_ticks=minor)
    ax.major_tick_in = tlen
    ax.major_tick_out = 0
    ax.minor_tick_in = mlen
    ax.minor_tick_out = 0
    ax.major_tick_line_width = 2
    ax.minor_tick_line_width = 2
    ax.major_tick_line_color = "black"
    ax.minor_tick_line_color = "black"
    ax.axis_line_color = None

xb = p.below[0]
yl = p.left[0]
style_axis(xb, x_major_ticks, x_minor, 22, 10)
style_axis(yl, y_major_ticks, y_minor, 25, 13)
xb.major_label_overrides = {t: s for t, s in zip(x_major_ticks, x_tick_labels)}
yl.major_label_overrides = {t: s for t, s in zip(y_major_ticks, y_tick_labels)}
for ax in (xb, yl):
    ax.major_label_text_font = "DejaVu Serif"
    ax.major_label_text_font_size = "32px"
    ax.major_label_text_color = "black"
    ax.axis_label_text_font = "DejaVu Serif"
    ax.axis_label_text_font_size = "34px"
    ax.axis_label_text_font_style = "normal"
    ax.axis_label_text_color = "black"
xb.major_label_standoff = 14
yl.major_label_standoff = 8
xb.axis_label = "Period [days]"
yl.axis_label = "Transit Radius [R\u2295]"
xb.axis_label_standoff = 12
yl.axis_label_standoff = 48

xt = LogAxis()
yr = LogAxis()
style_axis(xt, x_major_ticks, x_minor, 22, 10)
style_axis(yr, y_major_ticks, y_minor, 25, 13)
for ax in (xt, yr):
    ax.major_label_text_font_size = "1px"
    ax.major_label_text_alpha = 0
    ax.major_label_standoff = 0
p.add_layout(xt, "above")
p.add_layout(yr, "right")

p.xgrid.ticker = FixedTicker(ticks=x_grid_ticks)
p.ygrid.ticker = FixedTicker(ticks=y_grid_ticks)
p.xgrid.grid_line_color = "#d9d9d9"
p.ygrid.grid_line_color = "#d9d9d9"
p.xgrid.grid_line_width = 1
p.ygrid.grid_line_width = 1

p.scatter(x="period", y="radius", source=source, size=6.5,
          fill_color="#4169e1", line_color=None)

p.line(gap_period, gap_radius_upper, line_color="#ff00ff", line_width=1)
p.line(gap_period, gap_radius_lower, line_color="#ff00ff", line_width=1)
p.line(gap_period, gap_radius, line_color="#ff00ff", line_width=3)

p.add_layout(Label(x=0.155, y=13.94, text="Synthetic data", text_font="Liberation Sans",
                   text_font_size="37.5px", text_color="black", text_baseline="alphabetic"))
p.add_layout(Label(x=19.7, y=0.4835, text="Gap from:", text_font="Liberation Sans",
                   text_font_size="37px", text_color="black", text_baseline="alphabetic"))
p.add_layout(Label(x=19.7, y=0.386, text="van Eylen+2018", text_font="Liberation Sans",
                   text_font_size="37px", text_color="black", text_baseline="alphabetic"))

open("out.html", "w").write(file_html(p, INLINE))
